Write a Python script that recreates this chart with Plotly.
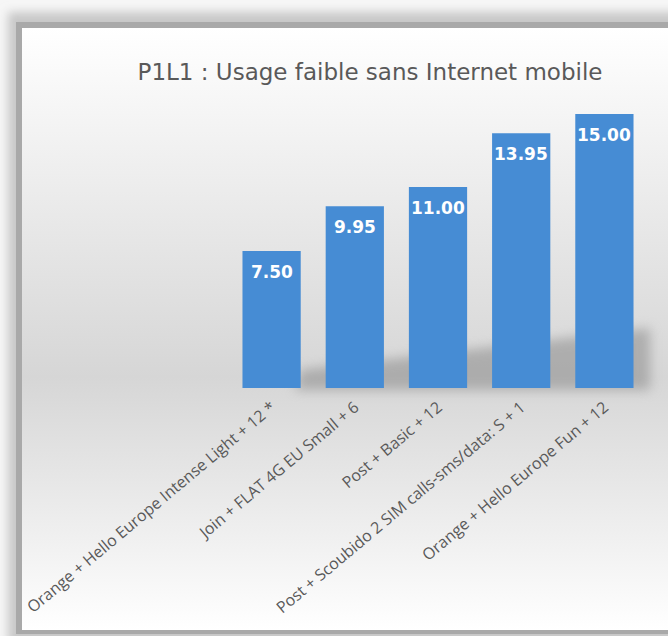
import base64
import plotly.graph_objects as go

categories = [
    "Orange + Hello Europe Intense Light + 12 *",
    "Join + FLAT 4G EU Small + 6",
    "Post + Basic + 12",
    "Post + Scoubido 2 SIM calls-sms/data: S + 1",
    "Orange + Hello Europe Fun + 12",
]
prices = [7.50, 9.95, 11.00, 13.95, 15.00]
title_text = "P1L1 : Usage faible sans Internet mobile"

W, H = 668, 636
ML, MR, MT, MB = 230, 22, 114, 248
PW, PH = W - ML - MR, H - MT - MB

svg = f"""<svg xmlns='http://www.w3.org/2000/svg' width='{W}' height='{H}'>
<defs>
<linearGradient id='g' x1='0' y1='0' x2='0' y2='1'>
<stop offset='0' stop-color='#ffffff'/>
<stop offset='0.58' stop-color='#d6d6d6'/>
<stop offset='1' stop-color='#ffffff'/>
</linearGradient>
<filter id='b' x='-10%' y='-10%' width='120%' height='120%'><feGaussianBlur stdDeviation='5'/></filter>
<filter id='s' x='-20%' y='-50%' width='140%' height='200%'><feGaussianBlur stdDeviation='6'/></filter>
</defs>
<rect width='{W}' height='{H}' fill='#f6f6f6'/>
<rect x='8' y='12' width='690' height='632' fill='#c8c8c8' filter='url(#b)'/>
<rect x='16' y='22' width='670' height='612' fill='#a9a9a9'/>
<rect x='22' y='28' width='670' height='602' fill='url(#g)'/>
<polygon points='295,390 300,370 650,328 650,390' fill='#8a8a8a' opacity='0.55' filter='url(#s)'/>
</svg>"""
bg_uri = "data:image/svg+xml;base64," + base64.b64encode(svg.encode()).decode()

fig = go.Figure()
fig.add_trace(go.Bar(
    x=categories,
    y=prices,
    marker=dict(color="#468cd4", line=dict(width=0)),
    hoverinfo="skip",
))

for c, v in zip(categories, prices):
    fig.add_annotation(
        x=c, y=v, text=f"{v:.2f}", showarrow=False,
        yanchor="middle", yshift=-21,
        font=dict(family="DejaVu Sans", size=17, color="white", weight="bold"),
    )

fig.add_layout_image(
    source=bg_uri, xref="paper", yref="paper",
    x=-ML / PW, y=1 + MT / PH, sizex=W / PW, sizey=H / PH,
    xanchor="left", yanchor="top", sizing="stretch", layer="below",
)

fig.update_layout(
    width=W, height=H,
    margin=dict(l=ML, r=MR, t=MT, b=MB, autoexpand=False),
    paper_bgcolor="#f6f6f6",
    plot_bgcolor="rgba(0,0,0,0)",
    bargap=0.30,
    showlegend=False,
    title=dict(
        text=title_text, x=370 / W, xanchor="center",
        y=1 - 72 / H, yanchor="middle",
        font=dict(family="DejaVu Sans, sans-serif", size=23, color="#595959"),
    ),
    xaxis=dict(
        showline=False, showgrid=False, zeroline=False, ticks="",
        tickangle=-40, automargin=False, ticklabelstandoff=6,
        tickfont=dict(family="Open Sans, sans-serif", size=16, color="#595959"),
    ),
    yaxis=dict(range=[0, 15], visible=False, showgrid=False, zeroline=False),
)

fig.write_html(
    "out.html",
    config={"displayModeBar": False},
    post_script="document.body.style.margin='0';document.body.style.overflow='hidden';",
)
